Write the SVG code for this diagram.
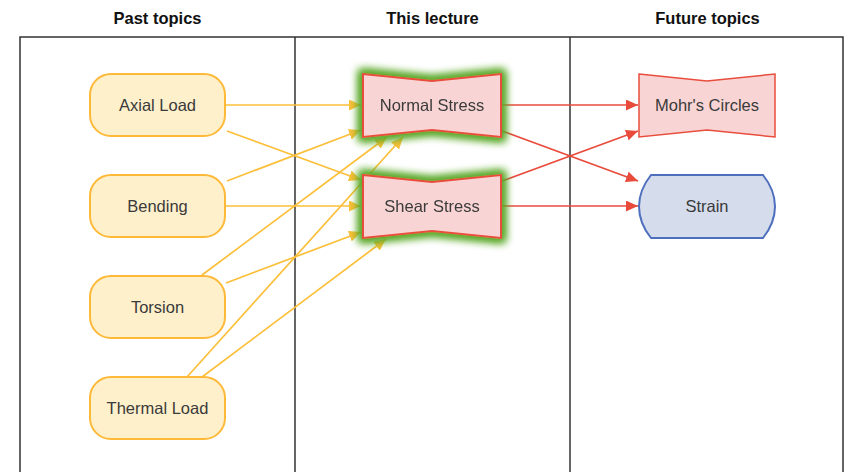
<svg xmlns="http://www.w3.org/2000/svg" width="850" height="472" viewBox="0 0 850 472">
<defs>
<style>
.head{font-family:"Liberation Sans",Arial,sans-serif;font-weight:bold;font-size:16.5px;fill:#111;text-anchor:middle}
.lbl{font-family:"Liberation Sans",Arial,sans-serif;font-size:16.5px;fill:#3a3a3a;text-anchor:middle}
.frame{fill:none;stroke:#333;stroke-width:1.5}
.past{fill:#fff0cc;stroke:#ffb938;stroke-width:2}
.now{fill:#f8d5d4;stroke:#e84d3d;stroke-width:2}
.fut{fill:#f8d5d4;stroke:#e84d3d;stroke-width:1.5}
.blue{fill:#d5dcec;stroke:#4d6fbd;stroke-width:2}
.ey{fill:none;stroke:#fbbf3a;stroke-width:1.7;marker-end:url(#ay)}
.er{fill:none;stroke:#e84b3c;stroke-width:1.7;marker-end:url(#ar)}
</style>
<marker id="ay" markerUnits="userSpaceOnUse" markerWidth="13" markerHeight="11" refX="12" refY="5.5" orient="auto"><path d="M0,0 L12,5.5 L0,11 Z" fill="#fbbf3a"/></marker>
<marker id="ar" markerUnits="userSpaceOnUse" markerWidth="13" markerHeight="11" refX="12" refY="5.5" orient="auto"><path d="M0,0 L12,5.5 L0,11 Z" fill="#e84b3c"/></marker>
<filter id="glow" x="-30%" y="-50%" width="160%" height="200%">
<feMorphology in="SourceAlpha" operator="dilate" radius="3" result="d"/>
<feGaussianBlur in="d" stdDeviation="4.5" result="b"/>
<feFlood flood-color="#5aa82a"/>
<feComposite in2="b" operator="in" result="g"/>
<feMerge><feMergeNode in="g"/><feMergeNode in="g"/><feMergeNode in="SourceGraphic"/></feMerge>
</filter>
</defs>
<rect width="850" height="472" fill="#fff"/>
<g id="frame">
<rect class="frame" x="20" y="37" width="823" height="460"/>
<line class="frame" x1="295" y1="37" x2="295" y2="472"/>
<line class="frame" x1="570" y1="37" x2="570" y2="472"/>
<text class="head" x="157.5" y="24">Past topics</text>
<text class="head" x="432.5" y="24">This lecture</text>
<text class="head" x="707.5" y="24">Future topics</text>
</g>
<g id="connectors">
<path class="ey" d="M225,105 L361,105"/>
<path class="ey" d="M227,131 L361,180"/>
<path class="ey" d="M227,181 L361,130"/>
<path class="ey" d="M225,206 L361,206"/>
<path class="ey" d="M202,275 L387,137"/>
<path class="ey" d="M226,283 L361,232"/>
<path class="ey" d="M187,377 L403,137"/>
<path class="ey" d="M202,377 L386,239"/>
<path class="er" d="M501,105 L638,105"/>
<path class="er" d="M502,131 L638,181"/>
<path class="er" d="M502,181 L638,131"/>
<path class="er" d="M501,206 L638,206"/>
</g>
<g id="axial"><rect class="past" x="90" y="74" width="135" height="62" rx="21"/><text class="lbl" x="157.5" y="111">Axial Load</text></g>
<g id="bending"><rect class="past" x="90" y="175" width="135" height="62" rx="21"/><text class="lbl" x="157.5" y="212">Bending</text></g>
<g id="torsion"><rect class="past" x="90" y="276" width="135" height="62" rx="21"/><text class="lbl" x="157.5" y="313">Torsion</text></g>
<g id="thermal"><rect class="past" x="90" y="377" width="135" height="62" rx="21"/><text class="lbl" x="157.5" y="414">Thermal Load</text></g>
<g id="normal" filter="url(#glow)"><path class="now" d="M363,74 L432,81 L501,74 L501,137 L432,130 L363,137 Z"/><text class="lbl" x="432" y="111">Normal Stress</text></g>
<g id="shear" filter="url(#glow)"><path class="now" d="M363,175 L432,182 L501,175 L501,238 L432,231 L363,238 Z"/><text class="lbl" x="432" y="212">Shear Stress</text></g>
<g id="mohr"><path class="fut" d="M639,74 L707,81 L775,74 L775,137 L707,130 L639,137 Z"/><text class="lbl" x="707" y="111">Mohr's Circles</text></g>
<g id="strain"><path class="blue" d="M651,175 H763 C779,195 779,218 763,238 H651 C635,218 635,195 651,175 Z"/><text class="lbl" x="707" y="212">Strain</text></g>
</svg>
